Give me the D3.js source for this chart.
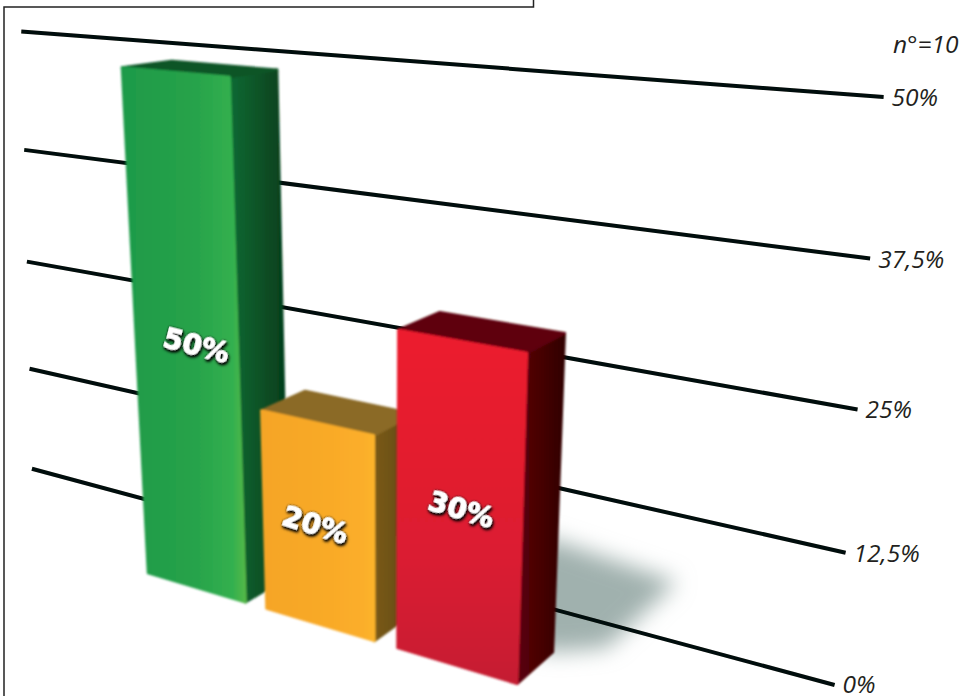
<!DOCTYPE html>
<html>
<head>
<meta charset="utf-8">
<script src="https://cdnjs.cloudflare.com/ajax/libs/d3/7.8.5/d3.min.js"></script>
<style>
html, body { margin: 0; padding: 0; background: #fff; overflow: hidden; }
svg { display: block; }
.tick-label { font-family: "Open Sans", sans-serif; font-style: italic; font-size: 24.5px; fill: #231f20; }
.bar-label {
    font-family: "DejaVu Sans", sans-serif; font-weight: bold; font-size: 28px; fill: #fff;
    text-anchor: middle; stroke: #fff; stroke-width: 0.9px;
}
</style>
</head>
<body>
<script>
var categories = ['vert', 'orange', 'rouge'];
var values = [50, 20, 30];
var barLabels = ['50%', '20%', '30%'];
var tickValues = [0, 12.5, 25, 37.5, 50];
var tickLabels = ['0%', '12,5%', '25%', '37,5%', '50%'];
var sampleLabel = 'n°=10';

(function () {
    var width = 965,
        height = 696,
        svg, defs;

    // scene coordinates: u along the row of bars, v up the value axis, w into the picture
    var u = d3.scaleBand().domain(categories).range([0, 1.005]).paddingInner(0.17);
    var v = d3.scaleLinear().domain([0, 50]).range([0, 1]);
    // the wall is not quite true to the bars' perspective in the photo
    var wallV = d3.scaleLinear().domain([0, 12.5, 25, 37.5, 50]).range([-0.005, 0.246, 0.5025, 0.757, 1.013]);
    var wallStart = d3.scaleLinear().domain([0, 50]).range([-0.748, -0.668]);
    var wallEnd = d3.scaleLinear().domain([0, 50]).range([1.565, 1.547]);
    // where the label sits across each bar's front
    var labelAlong = d3.scaleOrdinal().domain(categories).range([0.58, 0.45, 0.5]);

    // perspective camera, from the vanishing points of the photo
    var origin = [148, 573],
        vanishU = [-2224, -139], kU = -0.134,
        vanishV = [385, 5178], kV = -0.0989,
        vanishW = [1400, -100], kW = 0.0365,
        wallDepth = 2.2;

    function project(pu, pv, pw) {
        var a = pu * kU,
            b = pv * kV,
            c = pw * kW,
            d = 1 + a + b + c;
        return [
            (origin[0] + a * vanishU[0] + b * vanishV[0] + c * vanishW[0]) / d,
            (origin[1] + a * vanishU[1] + b * vanishV[1] + c * vanishW[1]) / d
        ];
    }

    var colors = {
        vert: { front: ['#1e9a48', '#27a34b', '#33b04f', '#55b947'], side: ['#0b6a33', '#063c1b'], top: '#0b5527', down: false },
        orange: { front: ['#f5a528', '#f9aa28', '#fbae2a', '#fdb42c'], side: ['#7a5a1a', '#5f4715'], top: '#8b6a26', down: false },
        rouge: { front: ['#ec1a2e', '#dd1e30', '#cc1f30', '#c41e30'], side: ['#5c0008', '#300003'], top: '#5e000c', down: true }
    };

    svg = d3.select('body').append('svg').attr('width', width).attr('height', height);
    svg.append('rect').attr('width', width).attr('height', height).attr('fill', '#fff');
    defs = svg.append('defs');

    defs.append('filter').attr('id', 'soft').attr('x', '-5%').attr('y', '-5%').attr('width', '110%').attr('height', '110%')
        .append('feGaussianBlur').attr('stdDeviation', 0.8);
    defs.append('filter').attr('id', 'shadow').attr('x', '-40%').attr('y', '-40%').attr('width', '180%').attr('height', '180%')
        .append('feGaussianBlur').attr('stdDeviation', 11);
    defs.append('filter').attr('id', 'lineSoft').attr('x', '-2%').attr('y', '-20%').attr('width', '104%').attr('height', '140%')
        .append('feGaussianBlur').attr('stdDeviation', 0.5);

    var textShadow = defs.append('filter').attr('id', 'textShadow').attr('x', '-20%').attr('y', '-30%').attr('width', '140%').attr('height', '160%');
    textShadow.append('feDropShadow').attr('dx', 0).attr('dy', 0).attr('stdDeviation', 0.8).attr('flood-color', '#000').attr('result', 'a');
    textShadow.append('feDropShadow').attr('in', 'a').attr('dx', 1.5).attr('dy', 2).attr('stdDeviation', 1.2).attr('flood-color', '#000');

    categories.forEach(function (c) {
        var front = defs.append('linearGradient').attr('id', 'front-' + c);
        if (colors[c].down) {
            front.attr('x2', 0).attr('y2', 1);
        }
        colors[c].front.forEach(function (col, i) {
            front.append('stop').attr('offset', [0, 0.6, 0.9, 1][i]).attr('stop-color', col);
        });
        var side = defs.append('linearGradient').attr('id', 'side-' + c);
        colors[c].side.forEach(function (col, i) {
            side.append('stop').attr('offset', i).attr('stop-color', col);
        });
    });

    var path = d3.line();

    // frame left over from the page layout
    svg.append('path')
        .attr('d', path([[4, height], [4, 7], [533.5, 7], [533.5, 0]]))
        .attr('fill', 'none').attr('stroke', '#222').attr('stroke-width', 1.5);

    // ground shadow behind the last bar
    var lastBar = categories[categories.length - 1];
    var sx0 = u(lastBar),
        sx1 = u(lastBar) + u.bandwidth() + 0.09;
    svg.append('path')
        .attr('d', path([
            project(sx0, 0, 1), project(sx0, 0, 4.3), project(sx1, 0, 3.9),
            project(sx1, 0, 1.5), project(sx1 - 0.09, 0, 1)
        ]) + 'Z')
        .attr('fill', '#a0b1ae').attr('filter', 'url(#shadow)');

    // value lines on the back wall
    svg.selectAll('.grid').data(tickValues).enter().append('path')
        .attr('class', 'grid')
        .attr('d', function (d) {
            return path([
                project(wallStart(d), wallV(d), wallDepth),
                project(wallEnd(d), wallV(d), wallDepth)
            ]);
        })
        .attr('fill', 'none').attr('stroke', '#050a08').attr('stroke-width', 4)
        .attr('filter', 'url(#lineSoft)');

    svg.selectAll('.tick-label').data(tickValues).enter().append('text')
        .attr('class', 'tick-label')
        .attr('x', function (d) { return project(wallEnd(d), wallV(d), wallDepth)[0] + 8; })
        .attr('y', function (d) { return Math.min(project(wallEnd(d), wallV(d), wallDepth)[1] + 9, 693); })
        .text(function (d, i) { return tickLabels[i]; });

    svg.append('text').attr('class', 'tick-label').attr('x', 893).attr('y', 53).text(sampleLabel);

    // bars, far faces first
    var bars = svg.selectAll('.bar').data(categories).enter().append('g')
        .attr('class', 'bar').attr('filter', 'url(#soft)');

    function corners(c, i) {
        var l = u(c),
            r = l + u.bandwidth(),
            t = v(values[i]);
        return { l: l, r: r, t: t };
    }

    function face(sel, pts, fill) {
        sel.append('path').attr('d', path(pts) + 'Z')
            .attr('fill', fill).attr('stroke', fill)
            .attr('stroke-width', 2.5).attr('stroke-linejoin', 'round');
    }

    bars.each(function (c, i) {
        var g = d3.select(this),
            b = corners(c, i);
        face(g, [project(b.r, 0, 0), project(b.r, 0, 1), project(b.r, b.t, 1), project(b.r, b.t, 0)],
            'url(#side-' + c + ')');
        face(g, [project(b.l, b.t, 0), project(b.l, b.t, 1), project(b.r, b.t, 1), project(b.r, b.t, 0)],
            colors[c].top);
        face(g, [project(b.l, 0, 0), project(b.r, 0, 0), project(b.r, b.t, 0), project(b.l, b.t, 0)],
            'url(#front-' + c + ')');
    });

    // labels sit half way up each bar and follow the perspective of the row
    svg.selectAll('.bar-label').data(categories).enter().append('text')
        .attr('class', 'bar-label')
        .attr('filter', 'url(#textShadow)')
        .attr('transform', function (c, i) {
            var mid = u(c) + u.bandwidth() * labelAlong(c),
                p = project(mid, v(values[i]) / 2, 0),
                angle = Math.atan2(p[1] - vanishU[1], p[0] - vanishU[0]) * 180 / Math.PI;
            return 'translate(' + p[0] + ',' + (p[1] + 10) + ') rotate(' + (angle + 3) + ')';
        })
        .text(function (c, i) { return barLabels[i]; });
}());
</script>
</body>
</html>
